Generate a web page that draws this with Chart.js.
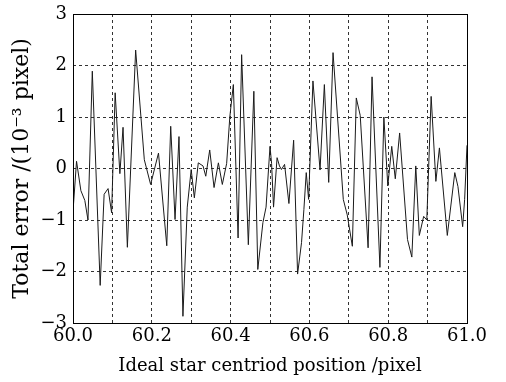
<!DOCTYPE html>
<html>
<head>
<meta charset="utf-8">
<script src="https://cdn.jsdelivr.net/npm/chart.js@4.4.1/dist/chart.umd.min.js"></script>
<style>
  html, body { margin: 0; padding: 0; background: #ffffff; }
  #wrap { width: 506px; height: 382px; }
</style>
</head>
<body>
<div id="wrap"><canvas id="c" width="506" height="382"></canvas></div>
<script>
// Ideal star centroid positions (pixel) and total centroid error (10^-3 pixel)
const positions = [
  60.000, 60.009, 60.020, 60.030, 60.038, 60.049, 60.069, 60.079, 60.089, 60.098,
  60.107, 60.119, 60.127, 60.138, 60.159, 60.181, 60.197, 60.217, 60.238, 60.248,
  60.259, 60.269, 60.279, 60.290, 60.300, 60.308, 60.318, 60.330, 60.337, 60.347,
  60.358, 60.369, 60.379, 60.390, 60.398, 60.407, 60.419, 60.428, 60.445, 60.459,
  60.469, 60.482, 60.490, 60.500, 60.504, 60.509, 60.518, 60.524, 60.529, 60.537,
  60.548, 60.560, 60.570, 60.580, 60.586, 60.592, 60.598, 60.609, 60.627, 60.638,
  60.649, 60.660, 60.686, 60.696, 60.709, 60.719, 60.729, 60.749, 60.759, 60.779,
  60.789, 60.799, 60.809, 60.818, 60.829, 60.849, 60.860, 60.870, 60.879, 60.890,
  60.898, 60.909, 60.921, 60.930, 60.950, 60.969, 60.977, 60.989, 60.994, 61.000
];
const totalError = [
  -0.83,  0.14, -0.43, -0.62, -1.00,  1.89, -2.27, -0.50, -0.39, -0.86,
   1.47, -0.10,  0.80, -1.53,  2.30,  0.17, -0.31,  0.30, -1.50,  0.82,
  -0.99,  0.62, -2.87, -0.75, -0.02, -0.57,  0.11,  0.05, -0.15,  0.36,
  -0.37,  0.11, -0.31,  0.10,  1.00,  1.63, -1.35,  2.21, -1.48,  1.50,
  -1.96, -1.05, -0.75,  0.43,  0.10, -0.75,  0.21,  0.05, -0.02,  0.08,
  -0.68,  0.55, -2.05, -1.44, -0.80, -0.08, -0.60,  1.70, -0.03,  1.63,
  -0.27,  2.25, -0.60, -0.90, -1.51,  1.37,  1.03, -1.54,  1.78, -1.92,
   1.00, -0.34,  0.43, -0.20,  0.69, -1.38, -1.72,  0.05, -1.30, -0.93,
  -1.00,  1.40, -0.25,  0.40, -1.30, -0.08, -0.35, -1.13, -0.60,  0.45
];

// Axis ticks: grid every 0.1 along x, labels every 0.2
const xTickValues = [60.0, 60.1, 60.2, 60.3, 60.4, 60.5, 60.6, 60.7, 60.8, 60.9, 61.0];
const xTickLabels = ['60.0', '', '60.2', '', '60.4', '', '60.6', '', '60.8', '', '61.0'];
const yTickValues = [3, 2, 1, 0, -1, -2, -3];
const yTickLabels = ['3', '2', '1', '0', '\u22121', '\u22122', '\u22123'];

const serif = "'DejaVu Serif', 'Liberation Serif', serif";

// Solid frame around the plotting area
const frame = {
  id: 'frame',
  afterDraw(chart) {
    const { ctx, chartArea: a } = chart;
    ctx.save();
    ctx.strokeStyle = '#000';
    ctx.lineWidth = 1;
    ctx.setLineDash([]);
    ctx.strokeRect(Math.round(a.left) + 0.5, Math.round(a.top) + 0.5,
                   Math.round(a.right - a.left), Math.round(a.bottom - a.top));
    ctx.restore();
  }
};

new Chart(document.getElementById('c'), {
  type: 'line',
  data: {
    datasets: [{
      data: positions.map((x, i) => ({ x: x, y: totalError[i] })),
      borderColor: '#1a1a1a',
      borderWidth: 1,
      pointRadius: 0,
      tension: 0,
      fill: false
    }]
  },
  options: {
    responsive: false,
    animation: false,
    events: [],
    layout: { padding: { left: 0, right: 39, top: 14, bottom: 0 } },
    plugins: { legend: { display: false }, tooltip: { enabled: false } },
    scales: {
      x: {
        type: 'linear',
        min: 60, max: 61,
        afterBuildTicks(s) { s.ticks = xTickValues.map(v => ({ value: v })); },
        afterFit(s) { s.height = 59; s.paddingLeft = 0; s.paddingRight = 0; },
        grid: { color: '#333', lineWidth: 1, drawTicks: false },
        border: { display: false, dash: [3, 3] },
        ticks: {
          padding: 3,
          color: '#000',
          maxRotation: 0,
          autoSkip: false,
          font: { family: serif, size: 18 },
          callback: (v, i) => xTickLabels[i]
        },
        title: {
          display: true,
          text: 'Ideal star centriod position /pixel',
          color: '#000',
          font: { family: serif, size: 18 },
          padding: { top: 0, bottom: 5 }
        }
      },
      y: {
        min: -3, max: 3,
        afterBuildTicks(s) { s.ticks = yTickValues.map(v => ({ value: v })); },
        afterFit(s) { s.width = 73; s.paddingTop = 0; s.paddingBottom = 0; },
        grid: { color: '#333', lineWidth: 1, drawTicks: false },
        border: { display: false, dash: [3, 3] },
        ticks: {
          padding: 6,
          color: '#000',
          autoSkip: false,
          font: { family: serif, size: 18 },
          callback: (v, i) => yTickLabels[i]
        },
        title: {
          display: true,
          text: 'Total error /(10\u207B\u00B3 pixel)',
          color: '#000',
          font: { family: serif, size: 22 },
          padding: { top: 9, bottom: 0 }
        }
      }
    }
  },
  plugins: [frame]
});
</script>
</body>
</html>
